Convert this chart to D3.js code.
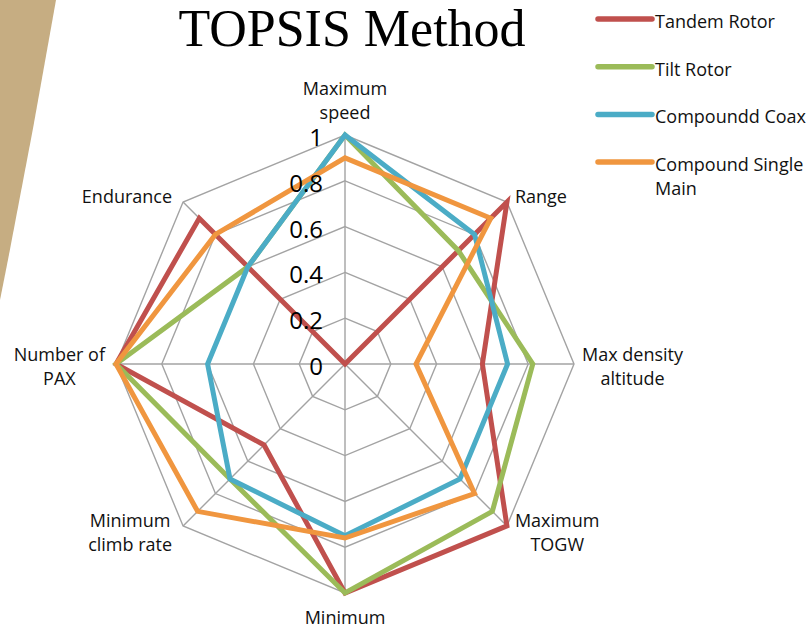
<!DOCTYPE html>
<html>
<head>
<meta charset="utf-8">
<script src="https://cdn.jsdelivr.net/npm/d3@7"></script>
<style>
  body { margin: 0; background: #fff; }
  svg { display: block; }
</style>
</head>
<body>
<div id="chart"></div>
<script>
// axes, clockwise from the top
var axes = ["Maximum\nspeed", "Range", "Max density\naltitude", "Maximum\nTOGW",
            "Minimum", "Minimum\nclimb rate", "Number of\nPAX", "Endurance"];
var ticks = [0, 0.2, 0.4, 0.6, 0.8, 1];
var seriesNames = ["Tandem Rotor", "Tilt Rotor", "Compoundd Coax", "Compound Single\nMain"];
var seriesColors = ["#C0504D", "#9BBB59", "#4BACC6", "#F0963F"];

var tandemRotor    = [0,   1,   0.6,  1,    1,    0.5,  1, 0.9];
var tiltRotor      = [1,   0.7, 0.82, 0.91, 1,    0.71, 1, 0.6];
var compounddCoax  = [1,   0.8, 0.71, 0.71, 0.75, 0.71, 0.6, 0.6];
var compoundSingle = [0.9, 0.9, 0.31, 0.8,  0.76, 0.91, 1, 0.8];
var series = [tandemRotor, tiltRotor, compounddCoax, compoundSingle];

var width = 810, height = 629;
var cx = 345, cy = 364, R = 229;
var labelFont = "'Open Sans', sans-serif";

var svg = d3.select("#chart").append("svg")
    .attr("width", width)
    .attr("height", height);

// tan swoosh in the corner of the slide
svg.append("path")
    .attr("d", "M0,0 L56,0 Q30,150 0,300 Z")
    .attr("fill", "#C6AD82");

var r = d3.scaleLinear().domain([0, 1]).range([0, R]);
var angle = d3.scalePoint().domain(d3.range(axes.length + 1)).range([0, 2 * Math.PI]);

var g = svg.append("g")
    .attr("transform", "translate(" + cx + "," + cy + ")");

// grid octagons
var grid = d3.lineRadial()
    .angle(function(d, i) { return angle(i); })
    .radius(function(d) { return r(d); })
    .curve(d3.curveLinearClosed);

g.selectAll(".ring")
  .data(ticks.slice(1))
  .enter().append("path")
    .attr("class", "ring")
    .attr("d", function(t) { return grid(axes.map(function() { return t; })); })
    .attr("fill", "none")
    .attr("stroke", "#A3A3A3")
    .attr("stroke-width", 1.4);

// spokes
g.selectAll(".spoke")
  .data(axes)
  .enter().append("line")
    .attr("class", "spoke")
    .attr("x1", 0).attr("y1", 0)
    .attr("x2", function(d, i) { return r(1) * Math.sin(angle(i)); })
    .attr("y2", function(d, i) { return -r(1) * Math.cos(angle(i)); })
    .attr("stroke", "#A3A3A3")
    .attr("stroke-width", 1.4);

// series
var line = d3.lineRadial()
    .angle(function(d, i) { return angle(i); })
    .radius(function(d) { return r(d); })
    .curve(d3.curveLinearClosed);

g.selectAll(".series")
  .data(series)
  .enter().append("path")
    .attr("class", "series")
    .attr("d", line)
    .attr("fill", "none")
    .attr("stroke", function(d, i) { return seriesColors[i]; })
    .attr("stroke-width", 5)
    .attr("stroke-linejoin", "miter");

// tick labels
g.selectAll(".tick")
  .data(ticks)
  .enter().append("text")
    .attr("class", "tick")
    .attr("x", -22)
    .attr("y", function(t) { return -r(t) + 11; })
    .attr("text-anchor", "end")
    .style("font-family", labelFont)
    .style("font-size", "24px")
    .attr("fill", "#000")
    .text(function(t) { return t; });

// axis labels
axes.forEach(function(name, i) {
  var a = angle(i), dx = Math.sin(a), dy = -Math.cos(a);
  var vx = r(1) * dx, vy = r(1) * dy;
  var lines = name.split("\n");
  var t = g.append("text")
      .style("font-family", labelFont)
      .style("font-size", "18px")
      .attr("fill", "#111")
      .attr("text-anchor", "middle");
  lines.forEach(function(s) { t.append("tspan").text(s); });
  var w = d3.max(t.selectAll("tspan").nodes(), function(n) { return n.getComputedTextLength(); });
  var bx, firstY;
  if (Math.abs(dx) < 0.1) bx = vx;
  else if (dx > 0) bx = vx + 8 + w / 2;
  else bx = vx - 11 - w / 2;
  if (Math.abs(dy) < 0.1) firstY = vy - 3;           // side: centred on the vertex
  else if (Math.abs(dx) < 0.1 && dy < 0) firstY = vy - 22 - 24 * (lines.length - 1) + 6;
  else if (Math.abs(dx) < 0.1) firstY = vy + 31;
  else firstY = vy + 1;                               // diagonals
  t.selectAll("tspan")
      .attr("x", bx)
      .attr("y", function(d, k) { return firstY + 24 * k; });
});

// title
svg.append("text")
    .attr("x", 352)
    .attr("y", 46)
    .attr("text-anchor", "middle")
    .style("font-family", "'Liberation Serif', 'DejaVu Serif', serif")
    .style("font-size", "52px")
    .attr("fill", "#000")
    .text("TOPSIS Method");

// legend
var legend = svg.append("g").attr("transform", "translate(598,19)");
var item = legend.selectAll(".item")
  .data(seriesNames)
  .enter().append("g")
    .attr("class", "item")
    .attr("transform", function(d, i) { return "translate(0," + i * 47.7 + ")"; });

item.append("line")
    .attr("x1", 0).attr("x2", 54)
    .attr("stroke", function(d, i) { return seriesColors[i]; })
    .attr("stroke-width", 5.5)
    .attr("stroke-linecap", "round");

item.append("text")
    .style("font-family", labelFont)
    .style("font-size", "18px")
    .attr("fill", "#111")
  .selectAll("tspan")
  .data(function(d) { return d.split("\n"); })
  .enter().append("tspan")
    .attr("x", 57)
    .attr("y", function(d, k) { return 9 + 24 * k; })
    .text(function(d) { return d; });
</script>
</body>
</html>
